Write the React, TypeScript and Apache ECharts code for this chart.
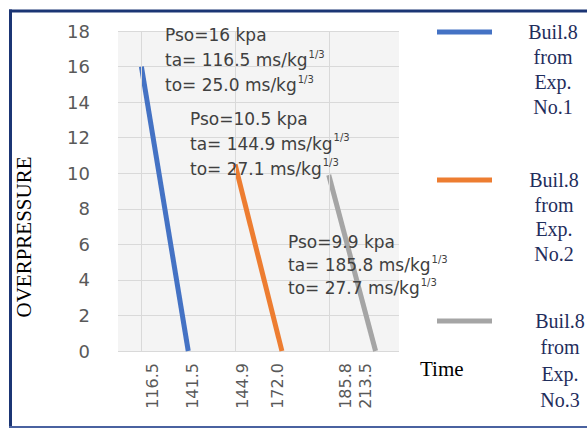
import React, { useEffect, useRef } from "react";
import * as echarts from "echarts";

// ---- data ----
const categories = ["116.5", "141.5", "144.9", "172.0", "185.8", "213.5"];
const exp1Values: (number | string)[] = [16, 0, "-", "-", "-", "-"];
const exp2Values: (number | string)[] = ["-", "-", 10.5, 0, "-", "-"];
const exp3Values: (number | string)[] = ["-", "-", "-", "-", 9.9, 0];
const seriesNames = ["Buil.8 from Exp. No.1", "Buil.8 from Exp. No.2", "Buil.8 from Exp. No.3"];
const seriesColors = ["#4472c4", "#ed7d31", "#a5a5a5"];
const yMin = 0;
const yMax = 18;
const yInterval = 2;
const gridLineCategories = ["116.5", "144.9", "185.8"];
const annotations = [
  ["Pso=16 kpa", "ta= 116.5 ms/kg", "to= 25.0 ms/kg"],
  ["Pso=10.5 kpa", "ta= 144.9 ms/kg", "to= 27.1 ms/kg"],
  ["Pso=9.9 kpa", "ta= 185.8 ms/kg", "to= 27.7 ms/kg"],
];
const yAxisTitle = "OVERPRESSURE";
const xAxisTitle = "Time";

// ---- layout (not data) ----
const labelShift = [10.6, 3.8, 7.9, -4.9, 16.3, -9.6];
const annotationPos = [
  { x: 165, y: 22.5, lh: 25 },
  { x: 190, y: 106, lh: 25 },
  { x: 288, y: 230.5, lh: 23 },
];
const legendPos = [
  { lineY: 32, textX: 553, textY: 19.5, lh: 25 },
  { lineY: 180, textX: 554, textY: 168, lh: 24.5 },
  { lineY: 321, textX: 560, textY: 308, lh: 26.3 },
];

function buildAnnotation(lines: string[]) {
  return [lines[0], lines[1] + "{sup|1/3}", lines[2] + "{sup|1/3}"].join("\n");
}

export default function App() {
  const ref = useRef<HTMLDivElement>(null);
  useEffect(() => {
    if (!ref.current) return;
    const chart = echarts.init(ref.current, null, { renderer: "svg" });

    const rich: Record<string, any> = {};
    labelShift.forEach((d, i) => {
      rich["s" + i] = {
        fontSize: 16,
        fontFamily: "DejaVu Sans",
        color: "#595959",
        padding: [Math.max(0, 2 * d), 0, Math.max(0, -2 * d), 0],
      };
    });

    const dataSets = [exp1Values, exp2Values, exp3Values];

    const graphic: any[] = [];
    // border
    graphic.push({ type: "line", shape: { x1: 9, y1: 11, x2: 600, y2: 11 }, style: { stroke: "#1b3574", lineWidth: 3 } });
    graphic.push({ type: "line", shape: { x1: 10.5, y1: 9.5, x2: 10.5, y2: 428 }, style: { stroke: "#1b3574", lineWidth: 3 } });
    graphic.push({ type: "line", shape: { x1: 9, y1: 427, x2: 600, y2: 427 }, style: { stroke: "#4a62a0", lineWidth: 2 } });

    // annotations
    annotations.forEach((lines, i) => {
      const p = annotationPos[i];
      graphic.push({
        type: "text",
        x: p.x,
        y: p.y,
        z: 10,
        style: {
          text: buildAnnotation(lines),
          fill: "#404040",
          fontSize: 17,
          fontFamily: "DejaVu Sans",
          lineHeight: p.lh,
          textAlign: "left",
          textVerticalAlign: "top",
          rich: {
            sup: {
              fontSize: 10,
              fontFamily: "DejaVu Sans",
              fill: "#404040",
              verticalAlign: "middle",
              padding: [0, 0, 12, 1],
            },
          },
        },
      });
    });

    // legend
    seriesNames.forEach((name, i) => {
      const p = legendPos[i];
      graphic.push({
        type: "line",
        shape: { x1: 437, y1: p.lineY, x2: 492, y2: p.lineY },
        style: { stroke: seriesColors[i], lineWidth: 5 },
      });
      graphic.push({
        type: "text",
        x: p.textX,
        y: p.textY,
        style: {
          text: name.split(" ").join("\n"),
          fill: "#1f2d5c",
          fontSize: 20,
          fontFamily: "Liberation Serif",
          lineHeight: p.lh,
          textAlign: "center",
          textVerticalAlign: "top",
        },
      });
    });

    // axis titles
    graphic.push({
      type: "text",
      x: 24,
      y: 237,
      rotation: Math.PI / 2,
      style: {
        text: yAxisTitle,
        fill: "#000",
        fontSize: 21,
        fontFamily: "Liberation Serif",
        textAlign: "center",
        textVerticalAlign: "middle",
      },
    });
    graphic.push({
      type: "text",
      x: 420,
      y: 369,
      style: {
        text: xAxisTitle,
        fill: "#000",
        fontSize: 21,
        fontFamily: "Liberation Serif",
        textAlign: "left",
        textVerticalAlign: "middle",
      },
    });

    chart.setOption({
      animation: false,
      grid: {
        left: 118,
        right: 188,
        top: 31,
        bottom: 77,
        show: true,
        backgroundColor: "#f4f4f4",
        borderWidth: 0,
      },
      xAxis: {
        type: "category",
        data: categories,
        boundaryGap: true,
        axisLine: { show: false },
        axisTick: { show: false },
        splitLine: { show: false },
        axisLabel: {
          rotate: 90,
          margin: 12,
          interval: 0,
          formatter: (v: string, idx: number) => `{s${idx}|${v}}`,
          rich,
        },
      },
      yAxis: {
        type: "value",
        min: yMin,
        max: yMax,
        interval: yInterval,
        axisLine: { show: false },
        axisTick: { show: false },
        splitLine: { lineStyle: { color: "#d9d9d9", width: 1 } },
        axisLabel: { color: "#595959", fontSize: 18, fontFamily: "DejaVu Sans", margin: 28 },
      },
      series: [
        {
          type: "line",
          name: "gridlines",
          data: [],
          z: 1,
          silent: true,
          markLine: {
            silent: true,
            symbol: ["none", "none"],
            label: { show: false },
            lineStyle: { color: "#d9d9d9", width: 1, type: "solid" },
            data: gridLineCategories.map((c) => ({ xAxis: c })),
          },
        },
        ...dataSets.map((d, i) => ({
          type: "line",
          name: seriesNames[i],
          data: d,
          z: 3,
          showSymbol: false,
          symbol: "none",
          connectNulls: false,
          lineStyle: { color: seriesColors[i], width: 5 },
          itemStyle: { color: seriesColors[i] },
        })),
      ],
      graphic,
    });
    return () => chart.dispose();
  }, []);
  return (
    <div
      ref={ref}
      style={{ position: "fixed", left: 0, top: 0, width: 587, height: 428, background: "#fff" }}
    />
  );
}
